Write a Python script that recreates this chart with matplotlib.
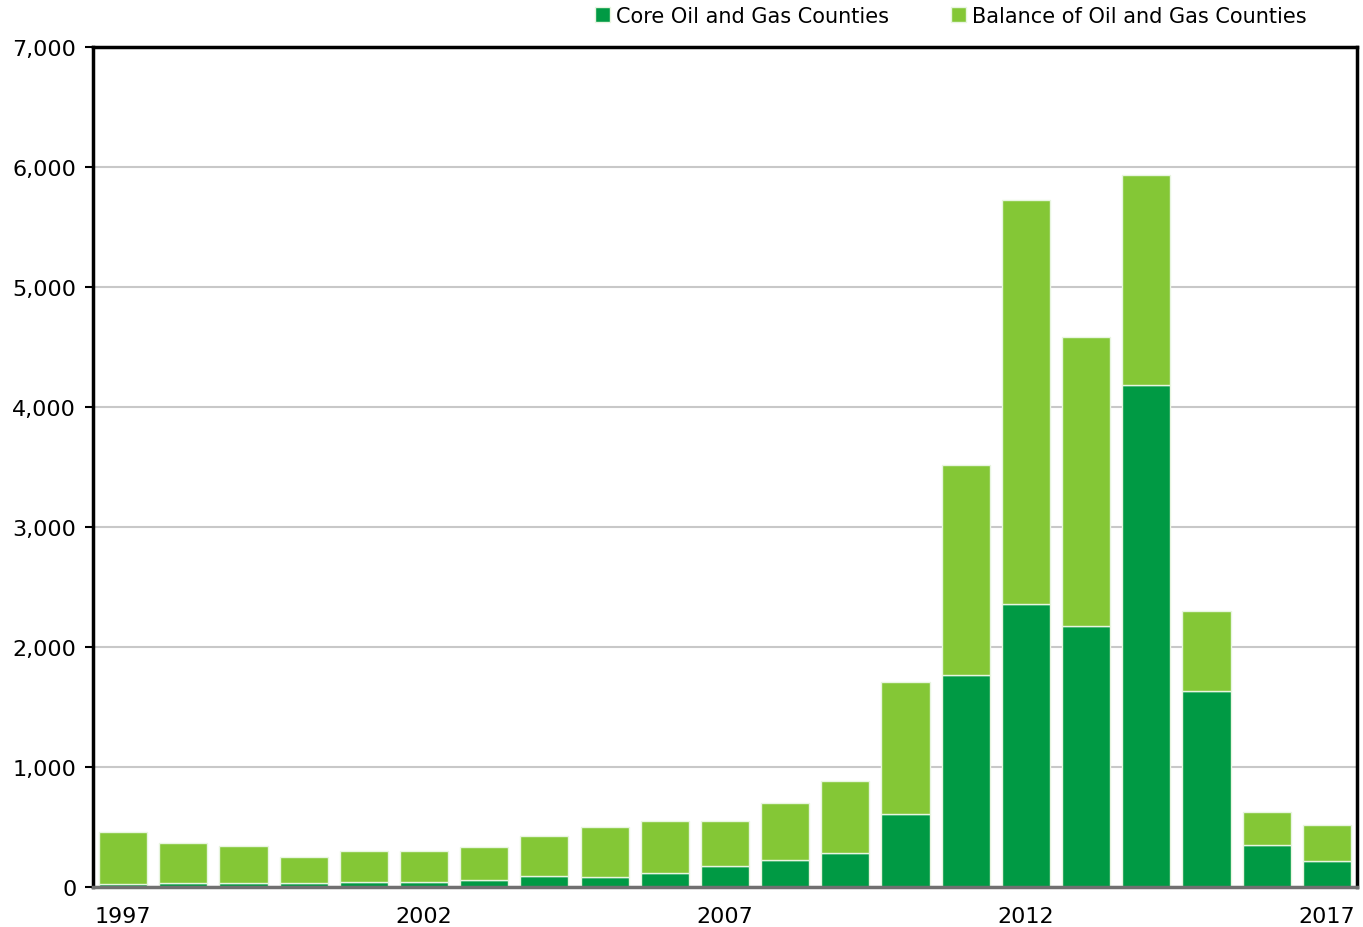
import numpy as np
import matplotlib.pyplot as plt

# Data
years = list(range(1997, 2018))
core = [28, 36, 31, 36, 39, 41, 56, 88, 82, 116, 176, 226, 283, 609, 1767, 2358, 2175, 4183, 1635, 352, 218]
total = [455, 369, 345, 250, 296, 298, 330, 423, 504, 549, 546, 699, 882, 1708, 3517, 5725, 4583, 5933, 2300, 625, 520]
balance = [t - c for t, c in zip(total, core)]

tick_years = [1997, 2002, 2007, 2012, 2017]

core_color = "#009A44"
balance_color = "#84C736"

fig = plt.figure(figsize=(13.63, 9.28), dpi=100)
ax = fig.add_axes([0.0682, 0.0431, 0.9274, 0.9052])

x = np.arange(len(years))
ax.bar(x, core, width=0.8, color=core_color, edgecolor="#e8f5e0", linewidth=1,
       label="Core Oil and Gas Counties", zorder=3)
ax.bar(x, balance, width=0.8, bottom=core, color=balance_color, edgecolor="#e8f5e0",
       linewidth=1, label="Balance of Oil and Gas Counties", zorder=3)

ax.set_xlim(-0.5, len(years) - 0.5)
ax.set_ylim(0, 7000)
ax.set_yticks(range(0, 7001, 1000))
ax.set_yticklabels([f"{v:,}" for v in range(0, 7001, 1000)], fontsize=16)
ax.set_xticks([years.index(y) for y in tick_years])
ax.set_xticklabels([str(y) for y in tick_years], fontsize=16)
ax.tick_params(axis="x", length=0, pad=14)
ax.tick_params(axis="y", length=6, width=1.5, pad=6)

ax.yaxis.grid(True, color="#c8c8c8", linewidth=1.5, zorder=0)
ax.set_axisbelow(True)

for side in ["left", "top", "right"]:
    ax.spines[side].set_color("black")
    ax.spines[side].set_linewidth(2.5)
ax.spines["bottom"].set_color("#707070")
ax.spines["bottom"].set_linewidth(2.5)
ax.spines["bottom"].set_zorder(4)

ax.legend(loc="center right", bbox_to_anchor=(0.967, 1.037), ncol=2, frameon=False,
          fontsize=15, handlelength=0.7, handleheight=0.7, handletextpad=0.3,
          columnspacing=3.0, borderaxespad=0)

plt.savefig("out.png", dpi=100)
plt.close()
